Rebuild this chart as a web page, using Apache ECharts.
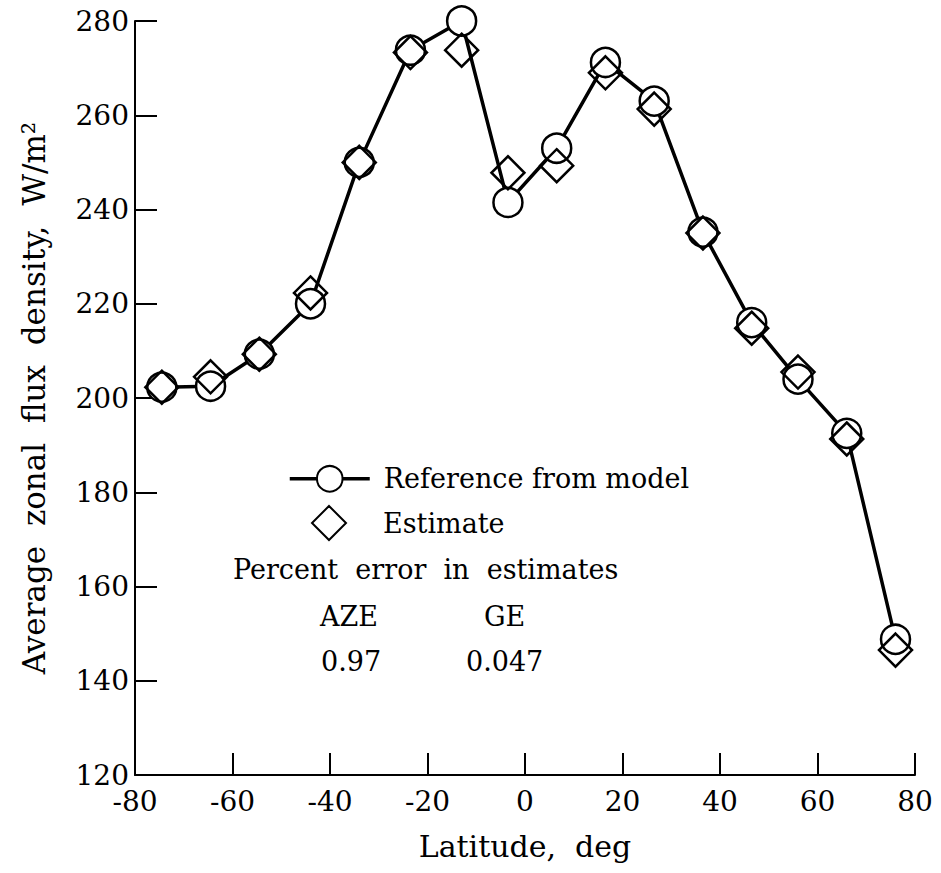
<!DOCTYPE html>
<html>
<head>
<meta charset="utf-8">
<script src="https://cdn.jsdelivr.net/npm/echarts@6/dist/echarts.min.js"></script>
<style>
html,body{margin:0;padding:0;background:#fff;}
#chart{width:941px;height:873px;}
</style>
</head>
<body>
<div id="chart"></div>
<script>
// Latitude of each zonal point (deg), as plotted
const latitudes = [-74.5, -64.5, -54.5, -44, -34, -23.5, -13, -3.5, 6.5, 16.5, 26.5, 36.5, 46.5, 56, 66, 76];
// Reference from model (W/m^2)
const referenceValues = [202.3, 202.5, 209.3, 220, 250, 273.8, 280, 241.5, 253, 271.2, 263, 235.2, 216, 204, 192.5, 148.8];
// Estimate (W/m^2)
const estimateValues = [202.3, 204.5, 209.3, 222.3, 250, 273.3, 273.8, 247.8, 249.3, 269, 261.3, 235, 214.8, 205.5, 191.3, 146.5];
const xTicks = [-80, -60, -40, -20, 0, 20, 40, 60, 80];
const yTicks = [120, 140, 160, 180, 200, 220, 240, 260, 280];
const seriesNames = ['Reference from model', 'Estimate'];
const errorTitle = 'Percent error in estimates';
const errorHeaders = ['AZE', 'GE'];
const errorValues = ['0.97', '0.047'];

const FONT = 'DejaVu Serif';
const refData = latitudes.map((x, i) => [x, referenceValues[i]]);
const estData = latitudes.map((x, i) => [x, estimateValues[i]]);

const chart = echarts.init(document.getElementById('chart'), null, {renderer: 'svg'});
const axisCommon = {
  axisLine: {show: true, onZero: false, lineStyle: {color: '#000', width: 2}},
  axisTick: {show: true, inside: true, length: 22, lineStyle: {color: '#000', width: 2}},
  splitLine: {show: false},
  axisLabel: {color: '#000', fontFamily: FONT, fontSize: 28},
  nameTextStyle: {color: '#000', fontFamily: FONT, fontSize: 30}
};
const legendText = {color: '#000', fontFamily: FONT, fontSize: 27};
const annotFont = '27px "DejaVu Serif"';
chart.setOption({
  backgroundColor: '#fff',
  animation: false,
  grid: {left: 135, right: 26, top: 21, bottom: 98},
  xAxis: Object.assign({}, axisCommon, {
    type: 'value', min: xTicks[0], max: xTicks[xTicks.length - 1], interval: 20,
    name: 'Latitude,  deg', nameLocation: 'middle', nameGap: 56,
    axisLabel: Object.assign({}, axisCommon.axisLabel, {margin: 12})
  }),
  yAxis: Object.assign({}, axisCommon, {
    type: 'value', min: yTicks[0], max: yTicks[yTicks.length - 1], interval: 20,
    name: 'Average  zonal  flux  density,  W/m²', nameLocation: 'middle', nameGap: 86,
    nameTextStyle: {color: '#000', fontFamily: FONT, fontSize: 31},
    axisLabel: Object.assign({}, axisCommon.axisLabel, {margin: 6})
  }),
  legend: [
    {
      orient: 'vertical', left: 283, top: 460, itemWidth: 80, itemHeight: 32,
      data: [seriesNames[0]],
      lineStyle: {width: 3.5, color: '#000'},
      textStyle: Object.assign({}, legendText, {padding: [0, 0, 0, 9]})
    },
    {
      orient: 'vertical', left: 306, top: 500, itemWidth: 34, itemHeight: 34,
      data: [seriesNames[1]],
      textStyle: Object.assign({}, legendText, {padding: [0, 0, 0, 32]})
    }
  ],
  series: [
    {
      name: seriesNames[0], type: 'line', data: refData, z: 2,
      symbol: 'circle', symbolSize: 29,
      lineStyle: {color: '#000', width: 3.5},
      itemStyle: {color: '#fff', borderColor: '#000', borderWidth: 2.5}
    },
    {
      name: seriesNames[1], type: 'scatter', data: estData, z: 3,
      symbol: 'diamond', symbolSize: [33, 33],
      itemStyle: {color: 'rgba(255,255,255,0)', borderColor: '#000', borderWidth: 2.5, opacity: 1}
    }
  ],
  graphic: [
    {type: 'text', left: 233, top: 556, style: {text: 'Percent  error  in  estimates', font: annotFont, fill: '#000'}},
    {type: 'text', left: 320, top: 603, style: {text: errorHeaders[0], font: annotFont, fill: '#000'}},
    {type: 'text', left: 484, top: 603, style: {text: errorHeaders[1], font: annotFont, fill: '#000'}},
    {type: 'text', left: 321, top: 648, style: {text: errorValues[0], font: annotFont, fill: '#000'}},
    {type: 'text', left: 466, top: 648, style: {text: errorValues[1], font: annotFont, fill: '#000'}}
  ]
});
</script>
</body>
</html>
